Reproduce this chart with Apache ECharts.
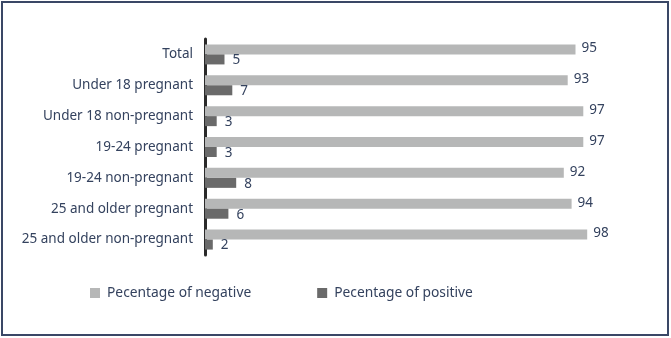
<!DOCTYPE html>
<html><head><meta charset="utf-8">
<script src="https://cdn.jsdelivr.net/npm/echarts@6/dist/echarts.min.js"></script>
<style>html,body{margin:0;padding:0;background:#fff}#c{width:671px;height:338px}</style>
</head><body><div id="c"></div>
<script>
const categories = ["Total","Under 18 pregnant","Under 18 non-pregnant","19-24 pregnant","19-24 non-pregnant","25 and older pregnant","25 and older non-pregnant"];
const negativeValues = [95,93,97,97,92,94,98];
const positiveValues = [5,7,3,3,8,6,2];
const seriesNames = ["Pecentage of negative","Pecentage of positive"];

const textColor = '#34425e';
const chart = echarts.init(document.getElementById('c'), null, {renderer:'canvas'});
chart.setOption({
  animation:false,
  textStyle:{fontFamily:'Noto Sans'},
  graphic:[{type:'rect',shape:{x:2,y:2,width:666,height:333},style:{fill:'none',stroke:'#3a4766',lineWidth:2}}],
  grid:{left:205,right:76,top:39,height:216,containLabel:false},
  xAxis:{type:'value',min:0,max:100,show:false},
  yAxis:{type:'category',data:categories,inverse:true,
    axisLine:{show:true,lineStyle:{color:'#2a2a2a',width:3}},
    axisTick:{show:false},
    axisLabel:{color:textColor,fontSize:13.5,margin:12,fontFamily:'Noto Sans'}},
  legend:{left:85,top:281,itemWidth:10,itemHeight:10,itemGap:66,icon:'rect',
    textStyle:{color:textColor,fontSize:13.8,fontFamily:'Noto Sans',padding:[0,0,0,2]}},
  series:[
    {name:seriesNames[0],type:'bar',data:negativeValues,barWidth:10,barGap:'0%',
     itemStyle:{color:'#b6b7b7'},
     label:{show:true,position:'right',distance:6,color:textColor,fontSize:13.5,offset:[0,-1]}},
    {name:seriesNames[1],type:'bar',data:positiveValues,barWidth:10,barGap:'0%',
     itemStyle:{color:'#6a6a6a'},
     label:{show:true,position:'right',distance:8,color:textColor,fontSize:13.5,offset:[0,1]}}
  ]
});
</script></body></html>
